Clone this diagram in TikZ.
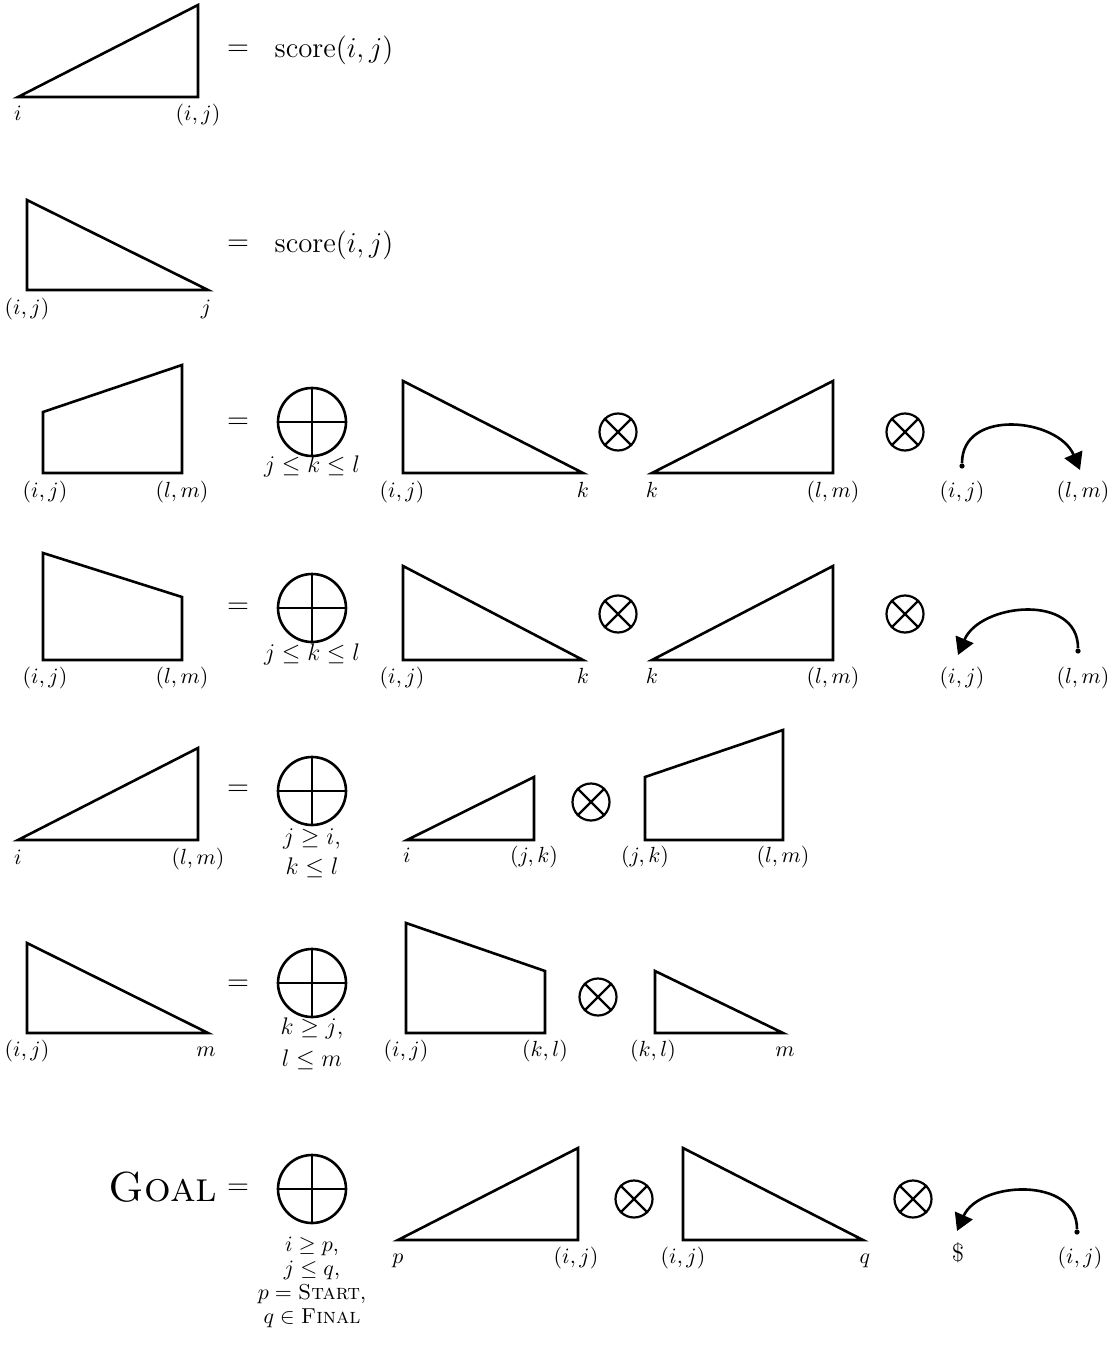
\documentclass[tikz,border=0pt]{standalone}
\usepackage{amsmath,amssymb}
\usepackage{tikz}
\usetikzlibrary{arrows.meta,positioning}
% span shapes: left x, right x, base y, top y (top-left y, top-right y)
\newcommand{\risetri}[4]{%
  \draw[shapeline] (#1,#3) -- (#2,#3) -- (#2,#4) -- cycle;%
}
\newcommand{\falltri}[4]{%
  \draw[shapeline] (#1,#4) -- (#1,#3) -- (#2,#3) -- cycle;%
}
\newcommand{\trapspan}[5]{%
  \draw[shapeline] (#1,#3) -- (#1,#4) -- (#2,#5) -- (#2,#3) -- cycle;%
}
\newcommand{\osum}[3]{%
  \node[sumcirc] (#1) at (#2,#3) {};
  \draw[shapeline] (#1.north) -- (#1.south) (#1.west) -- (#1.east);%
}
\newcommand{\oprod}[3]{%
  \node[prodcirc] (#1) at (#2,#3) {};
  \draw[opline] (#1.north east) -- (#1.south west) (#1.north west) -- (#1.south east);%
}

\begin{document}
\begin{tikzpicture}[x=0.5pt,y=-0.5pt,
    shapeline/.style={line width=1.3pt,line join=miter},
    opline/.style={line width=1.1pt},
    sumcirc/.style={circle,draw,line width=1.3pt,minimum size=34pt,inner sep=0pt},
    prodcirc/.style={circle,draw,line width=1.1pt,minimum size=18.5pt,inner sep=0pt},
    lbl/.style={font=\fontsize{10.8}{12}\selectfont,inner sep=0pt,anchor=base},
    cond/.style={font=\fontsize{12}{14}\selectfont,inner sep=0pt,anchor=base,align=center},
    big/.style={font=\fontsize{13.5}{16}\selectfont,inner sep=0pt},
    dotnode/.style={circle,fill,inner sep=0pt,minimum size=2.6pt},
    arcline/.style={line width=1.3pt,-{Triangle[length=8.5pt,width=9.5pt]}}]
  \useasboundingbox (0,0) rectangle (1112,1347);

  % row 1
  \risetri{18}{198}{97}{5}
  \node[lbl] (i1) at (18,121) {$i$};
  \node[lbl] (ij1) at (198,121) {$(i,j)$};
  \node[big] (eq1) at (238,50) {$=$};
  \node[big] (sc1) at (334,50) {$\mathrm{score}(i,j)$};

  % row 2
  \falltri{27}{208}{290}{200}
  \node[lbl] (ij2) at (27,315) {$(i,j)$};
  \node[lbl] (j2) at (206,315) {$j$};
  \node[big] (eq2) at (238,245) {$=$};
  \node[big] (sc2) at (334,245) {$\mathrm{score}(i,j)$};

  % row 3
  \trapspan{43}{182}{473}{412}{365}
  \node[lbl] (ij3) at (45,497) {$(i,j)$};
  \node[lbl] (lm3) at (182,497) {$(l,m)$};
  \node[big] (eq3) at (238,423) {$=$};
  \osum{s3}{312}{422}
  \node[cond] (c3) at (312,473) {$j \leq k \leq l$};
  \falltri{403}{583}{473}{381}
  \node[lbl] (ij3a) at (402,497) {$(i,j)$};
  \node[lbl] (k3a) at (583,497) {$k$};
  \oprod{p3a}{618}{432}
  \risetri{652}{833}{473}{381}
  \node[lbl] (k3b) at (652,497) {$k$};
  \node[lbl] (lm3b) at (833,497) {$(l,m)$};
  \oprod{p3b}{905}{432}
  \node[dotnode] (d3) at (962,466) {};
  \coordinate (e3) at (1080,470);
  \draw[arcline] (d3) .. controls +(0,-58) and +(-22,-52) .. (e3);
  \node[lbl] (ij3c) at (962,497) {$(i,j)$};
  \node[lbl] (lm3c) at (1083,497) {$(l,m)$};

  % row 4
  \trapspan{43}{182}{660}{553}{597}
  \node[lbl] (ij4) at (45,683) {$(i,j)$};
  \node[lbl] (lm4) at (182,683) {$(l,m)$};
  \node[big] (eq4) at (238,608) {$=$};
  \osum{s4}{312}{608}
  \node[cond] (c4) at (312,660) {$j \leq k \leq l$};
  \falltri{403}{583}{660}{566}
  \node[lbl] (ij4a) at (402,683) {$(i,j)$};
  \node[lbl] (k4a) at (583,683) {$k$};
  \oprod{p4a}{618}{614}
  \risetri{652}{833}{660}{566}
  \node[lbl] (k4b) at (652,683) {$k$};
  \node[lbl] (lm4b) at (833,683) {$(l,m)$};
  \oprod{p4b}{905}{614}
  \node[dotnode] (d4) at (1078,651) {};
  \coordinate (e4) at (958,655);
  \draw[arcline] (d4) .. controls +(0,-58) and +(22,-52) .. (e4);
  \node[lbl] (ij4c) at (962,683) {$(i,j)$};
  \node[lbl] (lm4c) at (1083,683) {$(l,m)$};

  % row 5
  \risetri{18}{198}{840}{748}
  \node[lbl] (i5) at (18,864) {$i$};
  \node[lbl] (lm5) at (198,864) {$(l,m)$};
  \node[big] (eq5) at (238,790) {$=$};
  \osum{s5}{312}{791}
  \node[cond] (c5) at (312,874) {$j \geq i$,\\[1pt] $k \leq l$};
  \risetri{407}{534}{840}{777}
  \node[lbl] (i5a) at (407,862) {$i$};
  \node[lbl] (jk5a) at (534,862) {$(j,k)$};
  \oprod{p5}{591}{802}
  \trapspan{645}{783}{840}{777}{730}
  \node[lbl] (jk5b) at (645,862) {$(j,k)$};
  \node[lbl] (lm5b) at (783,862) {$(l,m)$};

  % row 6
  \falltri{27}{208}{1033}{943}
  \node[lbl] (ij6) at (27,1056) {$(i,j)$};
  \node[lbl] (m6) at (206,1056) {$m$};
  \node[big] (eq6) at (238,985) {$=$};
  \osum{s6}{312}{983}
  \node[cond] (c6) at (312,1066) {$k \geq j$,\\[2pt] $l \leq m$};
  \trapspan{406}{545}{1033}{923}{971}
  \node[lbl] (ij6a) at (406,1056) {$(i,j)$};
  \node[lbl] (kl6a) at (545,1056) {$(k,l)$};
  \oprod{p6}{598}{997}
  \falltri{655}{783}{1033}{971}
  \node[lbl] (kl6b) at (653,1056) {$(k,l)$};
  \node[lbl] (m6b) at (785,1056) {$m$};

  % goal row
  \node[font=\fontsize{21}{25}\selectfont,inner sep=0pt,anchor=base] (goal) at (163,1201) {\textsc{Goal}};
  \node[big] (eq7) at (238,1189) {$=$};
  \osum{s7}{312}{1189}
  \node[cond,font=\fontsize{10.8}{12}\selectfont] (c7) at (312,1323)
    {$i \geq p$,\\ $j \leq q$,\\ $p = \textsc{Start}$,\\ $q \in \textsc{Final}$};
  \risetri{398}{578}{1240}{1148}
  \node[lbl] (p7a) at (398,1263) {$p$};
  \node[lbl] (ij7a) at (576,1263) {$(i,j)$};
  \oprod{p7a}{634}{1199}
  \falltri{683}{863}{1240}{1148}
  \node[lbl] (ij7b) at (683,1263) {$(i,j)$};
  \node[lbl] (q7b) at (865,1263) {$q$};
  \oprod{p7b}{913}{1199}
  \node[dotnode] (d7) at (1077,1232) {};
  \coordinate (e7) at (957,1231);
  \draw[arcline] (d7) .. controls +(0,-56) and +(22,-50) .. (e7);
  \node[lbl,font=\fontsize{12.5}{14}\selectfont] (dol7) at (958,1261) {\$};
  \node[lbl] (ij7c) at (1080,1263) {$(i,j)$};
\end{tikzpicture}
\end{document}
